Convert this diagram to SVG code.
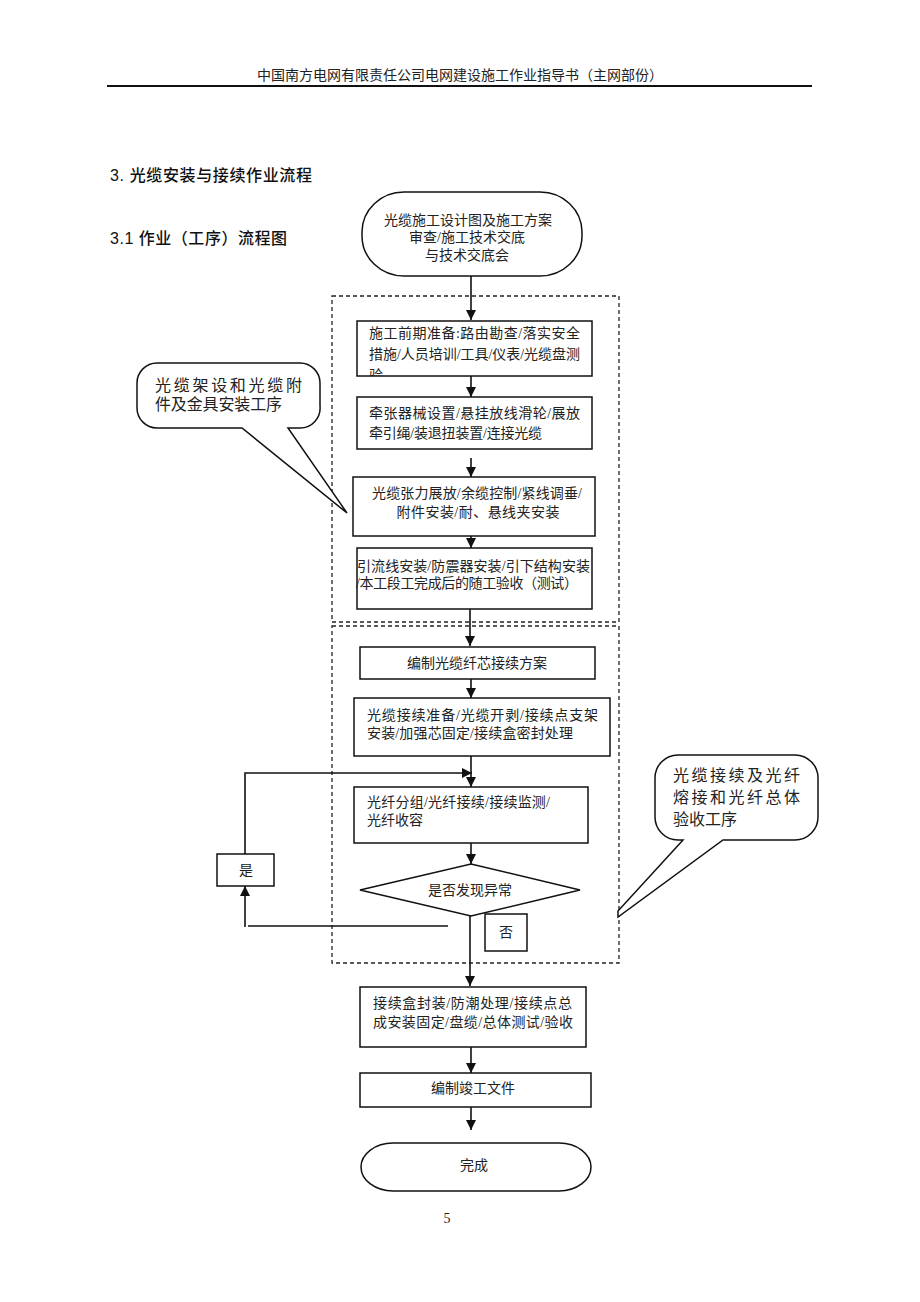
<svg xmlns="http://www.w3.org/2000/svg" width="920" height="1302" viewBox="0 0 920 1302">
<defs>
<style>
.t{font-family:"Liberation Serif","Noto Sans CJK SC",serif;font-size:14px;fill:#222}
.h{font-family:"Liberation Sans","Noto Sans CJK SC",sans-serif;font-size:16px;font-weight:500;fill:#111}
.c{font-family:"Liberation Serif","Noto Sans CJK SC",serif;font-size:16px;fill:#222}
.box{fill:#fff;stroke:#111;stroke-width:1.5}
.dash{fill:none;stroke:#222;stroke-width:1.3;stroke-dasharray:4 3}
.ln{fill:none;stroke:#111;stroke-width:1.6}
</style>
<marker id="ar" viewBox="0 0 10 10" refX="10" refY="5" markerWidth="10" markerHeight="10" markerUnits="userSpaceOnUse" orient="auto">
<path d="M0,0 L10,5 L0,10 Z" fill="#111"/>
</marker>
</defs>
<rect width="920" height="1302" fill="#fff"/>
<g id="header">
<text class="t" x="460" y="80" text-anchor="middle">中国南方电网有限责任公司电网建设施工作业指导书（主网部份）</text>
<line x1="107" y1="86" x2="812" y2="86" stroke="#111" stroke-width="1.8"/>
<text class="h" x="110" y="181" textLength="202" lengthAdjust="spacing">3.  光缆安装与接续作业流程</text>
<text class="h" x="110" y="244" textLength="177" lengthAdjust="spacing">3.1 作业（工序）流程图</text>
<text class="t" x="447" y="1223" text-anchor="middle">5</text>
</g>
<g id="groups">
<rect class="dash" x="332" y="296" width="287" height="326"/>
<rect class="dash" x="332" y="626" width="287" height="337"/>
</g>
<g id="connectors">
<line class="ln" x1="471" y1="276" x2="471" y2="320" marker-end="url(#ar)"/>
<line class="ln" x1="471" y1="376" x2="471" y2="397" marker-end="url(#ar)"/>
<line class="ln" x1="471" y1="458" x2="471" y2="477" marker-end="url(#ar)"/>
<line class="ln" x1="471" y1="536" x2="471" y2="548" marker-end="url(#ar)"/>
<line class="ln" x1="470" y1="609" x2="470" y2="646" marker-end="url(#ar)"/>
<line class="ln" x1="471" y1="679" x2="471" y2="698" marker-end="url(#ar)"/>
<line class="ln" x1="471" y1="756" x2="471" y2="787" marker-end="url(#ar)"/>
<polyline class="ln" points="245,854 245,773 472,773" marker-end="url(#ar)"/>
<line class="ln" x1="471" y1="843" x2="471" y2="864" marker-end="url(#ar)"/>
<line class="ln" x1="448" y1="926" x2="248" y2="926"/>
<line class="ln" x1="245" y1="927" x2="245" y2="886" marker-end="url(#ar)"/>
<line class="ln" x1="470" y1="916" x2="470" y2="986" marker-end="url(#ar)"/>
<line class="ln" x1="471" y1="1047" x2="471" y2="1073" marker-end="url(#ar)"/>
<line class="ln" x1="471" y1="1107" x2="471" y2="1130" marker-end="url(#ar)"/>
</g>
<g id="start">
<rect class="box" x="362" y="192" width="220" height="84" rx="42" ry="40"/>
<text class="t" x="468" y="225" text-anchor="middle" font-size="13.5">光缆施工设计图及施工方案</text>
<text class="t" x="467" y="242" text-anchor="middle" font-size="13.5">审查/施工技术交底</text>
<text class="t" x="467" y="260" text-anchor="middle" font-size="13.5">与技术交底会</text>
</g>
<g id="n1">
<rect class="box" x="357" y="321" width="235" height="55"/>
<svg x="357" y="321" width="235" height="55" overflow="hidden">
<text class="t" x="12" y="17" textLength="211" lengthAdjust="spacing">施工前期准备:路由勘查/落实安全</text>
<text class="t" x="12" y="38" textLength="211" lengthAdjust="spacing">措施/人员培训/工具/仪表/光缆盘测</text>
<text class="t" x="12" y="59">验</text>
</svg>
</g>
<g id="n2">
<rect class="box" x="357" y="397" width="235" height="52"/>
<text class="t" x="369" y="418" textLength="211" lengthAdjust="spacing">牵张器械设置/悬挂放线滑轮/展放</text>
<text class="t" x="369" y="438" textLength="173" lengthAdjust="spacing">牵引绳/装退扭装置/连接光缆</text>
</g>
<g id="n3">
<rect class="box" x="353" y="477" width="242" height="59"/>
<text class="t" x="477" y="498" text-anchor="middle" textLength="210" lengthAdjust="spacing">光缆张力展放/余缆控制/紧线调垂/</text>
<text class="t" x="478" y="517" text-anchor="middle" textLength="163" lengthAdjust="spacing">附件安装/耐、悬线夹安装</text>
</g>
<g id="n4">
<rect class="box" x="357" y="548" width="235" height="61"/>
<text class="t" x="357" y="571" textLength="233" lengthAdjust="spacing">引流线安装/防震器安装/引下结构安装</text>
<text class="t" x="356" y="588" textLength="222" lengthAdjust="spacing">/本工段工完成后的随工验收（测试）</text>
</g>
<g id="n5">
<rect class="box" x="360" y="647" width="235" height="32"/>
<text class="t" x="477" y="668" text-anchor="middle">编制光缆纤芯接续方案</text>
</g>
<g id="n6">
<rect class="box" x="354" y="698" width="256" height="58"/>
<text class="t" x="367" y="720" textLength="231" lengthAdjust="spacing">光缆接续准备/光缆开剥/接续点支架</text>
<text class="t" x="367" y="738" textLength="206" lengthAdjust="spacing">安装/加强芯固定/接续盒密封处理</text>
</g>
<g id="n7">
<rect class="box" x="354" y="787" width="234" height="56"/>
<text class="t" x="367" y="807" textLength="183" lengthAdjust="spacing">光纤分组/光纤接续/接续监测/</text>
<text class="t" x="367" y="825">光纤收容</text>
</g>
<g id="decision">
<polygon class="box" points="471,864 580,890 471,916 360,890"/>
<text class="t" x="470" y="895" text-anchor="middle">是否发现异常</text>
</g>
<g id="yes">
<rect class="box" x="217" y="854" width="57" height="32"/>
<text class="t" x="246" y="875" text-anchor="middle">是</text>
</g>
<g id="no">
<rect class="box" x="485" y="914" width="42" height="37"/>
<text class="t" x="506" y="937" text-anchor="middle">否</text>
</g>
<g id="n8">
<rect class="box" x="360" y="987" width="226" height="60"/>
<text class="t" x="373" y="1008" textLength="199" lengthAdjust="spacing">接续盒封装/防潮处理/接续点总</text>
<text class="t" x="373" y="1027" textLength="200" lengthAdjust="spacing">成安装固定/盘缆/总体测试/验收</text>
</g>
<g id="n9">
<rect class="box" x="360" y="1073" width="231" height="34"/>
<text class="t" x="473" y="1093" text-anchor="middle">编制竣工文件</text>
</g>
<g id="end">
<rect class="box" x="361" y="1143" width="230" height="48" rx="32" ry="24"/>
<text class="t" x="474" y="1170" text-anchor="middle">完成</text>
</g>
<g id="callout-left">
<path class="box" d="M157,363 H300 A20,20 0 0 1 320,383 V406 A20,20 0 0 1 300,428 H288 L347,513 L242,428 H157 A20,20 0 0 1 137,408 V383 A20,20 0 0 1 157,363 Z"/>
<text class="c" x="155" y="391" textLength="147" lengthAdjust="spacing">光缆架设和光缆附</text>
<text class="c" x="155" y="410" textLength="127" lengthAdjust="spacing">件及金具安装工序</text>
</g>
<g id="callout-right">
<path class="box" d="M678,755 H795 A23,23 0 0 1 818,778 V817 A23,23 0 0 1 795,840 H723 L618,917 L618,911 L683,840 H678 A23,23 0 0 1 655,817 V778 A23,23 0 0 1 678,755 Z"/>
<text class="c" x="673" y="781" textLength="127" lengthAdjust="spacing">光缆接续及光纤</text>
<text class="c" x="673" y="803" textLength="127" lengthAdjust="spacing">熔接和光纤总体</text>
<text class="c" x="673" y="825">验收工序</text>
</g>
</svg>
